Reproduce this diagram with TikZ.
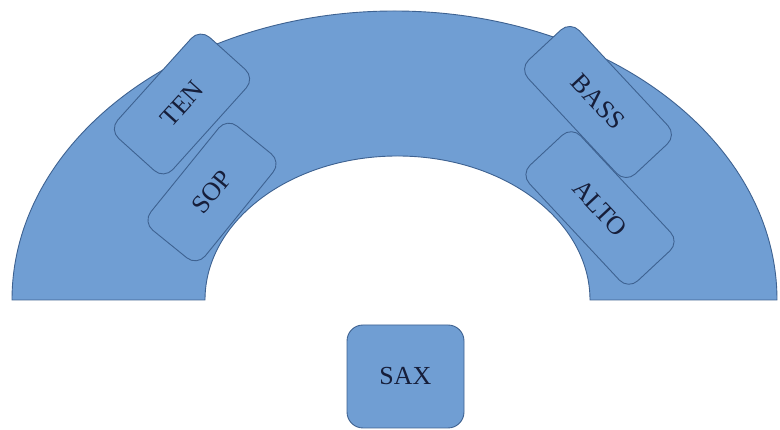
\documentclass[tikz,border=0pt]{standalone}
\usepackage{fontspec}
\setmainfont{Liberation Serif}
\definecolor{fillblue}{RGB}{112,158,211}
\definecolor{edgeblue}{RGB}{62,98,145}
\definecolor{textnavy}{RGB}{22,30,58}
\begin{document}
\begin{tikzpicture}[x=1pt,y=1pt,
  part/.style={draw=edgeblue, fill=fillblue, line width=0.9pt, rounded corners=13pt,
    inner sep=0pt, text=textnavy, font=\fontsize{26}{30}\selectfont},
  arcband/.style={draw=edgeblue, fill=fillblue, line width=0.9pt}]
\useasboundingbox (0,0) rectangle (780,430);
% choir arc
\path[arcband] (12,130) arc[start angle=180, end angle=0, x radius=382.5pt, y radius=289pt]
  -- (590,130) arc[start angle=0, end angle=180, x radius=192.5pt, y radius=144pt] -- cycle;
% sections
\node[part, minimum width=134pt, minimum height=70pt, rotate=51] (sop) at (212,238) {SOP};
\node[part, minimum width=136pt, minimum height=74pt, rotate=48] (ten) at (182,326) {TEN};
\node[part, minimum width=158pt, minimum height=70pt, rotate=-47] (alto) at (600,222) {ALTO};
\node[part, minimum width=156pt, minimum height=70pt, rotate=-47] (bass) at (598,328) {BASS};
% soloist
\node[part, rounded corners=16pt, minimum width=117pt, minimum height=103pt] (sax) at (405.5,53.5) {SAX};
\end{tikzpicture}
\end{document}
